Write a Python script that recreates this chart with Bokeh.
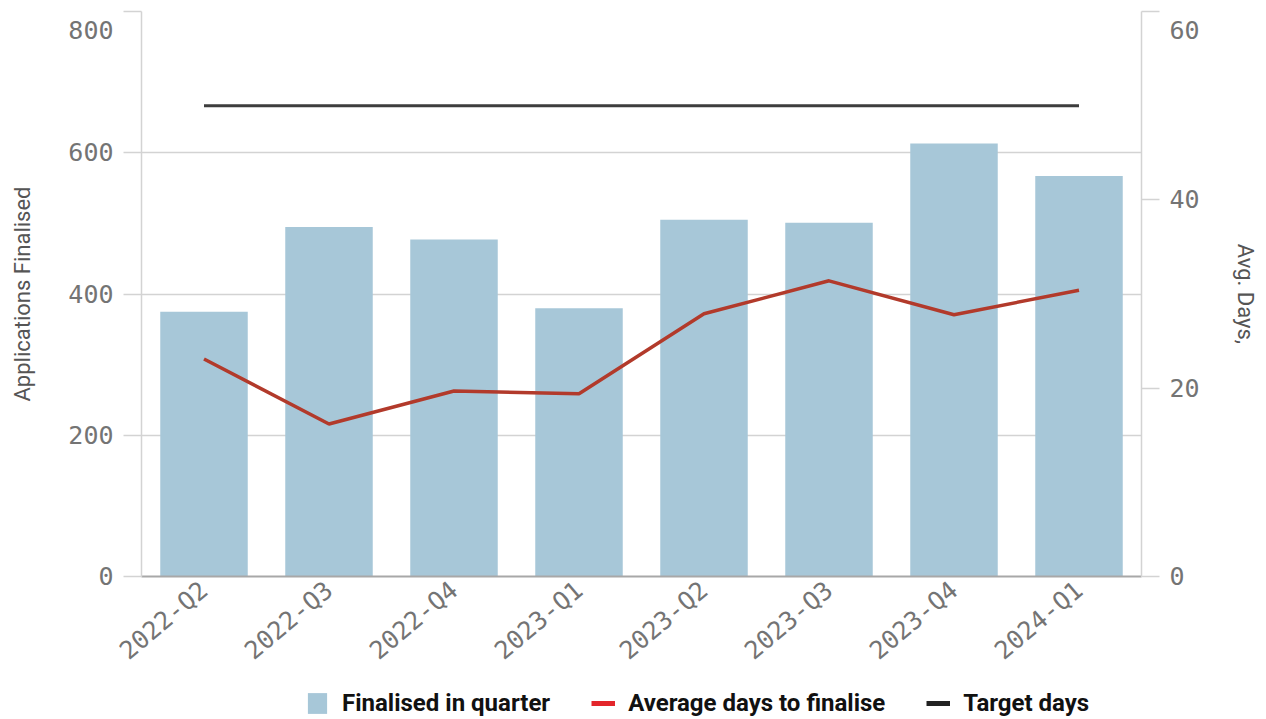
import math
from bokeh.plotting import figure
from bokeh.layouts import column
from bokeh.models import (Range1d, LinearAxis, FactorRange, FixedTicker, Legend,
                          LegendItem)
from bokeh.embed import file_html
from bokeh.resources import INLINE

# ---- data ----
quarters = ["2022-Q2", "2022-Q3", "2022-Q4", "2023-Q1",
            "2023-Q2", "2023-Q3", "2023-Q4", "2024-Q1"]
finalised = [375, 495, 477, 380, 505, 501, 613, 567]
avg_days = [23.1, 16.2, 19.7, 19.4, 27.9, 31.4, 27.8, 30.4]
target_days = [50, 50, 50, 50, 50, 50, 50, 50]
left_ticks = [0, 200, 400, 600, 800]
right_ticks = [0, 20, 40, 60]
legend_labels = ["Finalised in quarter", "Average days to finalise", "Target days"]

# ---- style constants ----
FRAME_W = 1000
FRAME_H = 565
TICK_FONT = "DejaVu Sans Mono"
TICK_SIZE = "25px"
TICK_COLOR = "#747474"
GRID = "#d3d3d3"
BAR_COLOR = "#a7c7d8"

p = figure(x_range=FactorRange(*quarters, range_padding=0),
           y_range=Range1d(0, 800),
           frame_width=FRAME_W, frame_height=FRAME_H,
           output_backend="svg", toolbar_location=None,
           min_border_left=141, min_border_right=117,
           min_border_top=11, min_border_bottom=104)
p.outline_line_color = None
p.background_fill_color = "white"
p.border_fill_color = "white"

p.extra_y_ranges = {"right": Range1d(0, 60)}
raxis = LinearAxis(y_range_name="right", ticker=FixedTicker(ticks=right_ticks),
                   axis_label="Avg. Days,")
p.add_layout(raxis, "right")

laxis = p.left[0]
laxis.ticker = FixedTicker(ticks=left_ticks)
laxis.axis_label = "Applications Finalised"
# top labels pushed down inside the canvas
laxis.major_label_overrides = {800: "\n800"}
raxis.major_label_overrides = {60: "\n60"}

for ax in (laxis, raxis):
    ax.axis_line_color = GRID
    ax.axis_line_width = 1.5
    ax.major_tick_line_color = GRID
    ax.major_tick_line_width = 1.5
    ax.major_tick_out = 18
    ax.major_tick_in = 0
    ax.minor_tick_line_color = None
    ax.major_label_text_font = TICK_FONT
    ax.major_label_text_font_size = TICK_SIZE
    ax.major_label_text_color = TICK_COLOR
    ax.major_label_text_line_height = 0.55
    ax.major_label_standoff = 10
    ax.axis_label_text_font = "Roboto"
    ax.axis_label_text_font_size = "22px"
    ax.axis_label_text_font_style = "normal"
    ax.axis_label_text_color = "#555555"
    ax.axis_label_standoff = 30

xa = p.xaxis[0]
xa.axis_line_color = "#a8a8a8"
xa.axis_line_width = 2
xa.major_tick_line_color = None
xa.minor_tick_line_color = None
xa.major_label_orientation = math.radians(40)
xa.major_label_text_font = TICK_FONT
xa.major_label_text_font_size = TICK_SIZE
xa.major_label_text_color = TICK_COLOR
xa.major_label_standoff = 4

p.xgrid.grid_line_color = None
p.ygrid.grid_line_color = GRID
p.ygrid.grid_line_width = 1.5
p.ygrid.ticker = FixedTicker(ticks=left_ticks)

# ---- marks ----
p.vbar(x=quarters, top=finalised, width=0.7, fill_color=BAR_COLOR, line_color=None)
p.line(quarters, avg_days, y_range_name="right", line_color="#b23a2b", line_width=3.5)
p.line(quarters, target_days, y_range_name="right", line_color="#3d3d3d", line_width=3)

# ---- legend strip (separate small figure so it is not clipped) ----
lg = figure(width=1258, height=39, x_range=Range1d(0, 1), y_range=Range1d(0, 1),
            output_backend="svg", toolbar_location=None, min_border=0)
lg.axis.visible = False
lg.grid.grid_line_color = None
lg.outline_line_color = None
nan_v = [float("nan")]
sw_bar = lg.vbar(x=nan_v, top=nan_v, width=1, fill_color=BAR_COLOR, line_color=None)
sw_avg = lg.line(x=nan_v, y=nan_v, line_color="#e3262b", line_width=5)
sw_tgt = lg.line(x=nan_v, y=nan_v, line_color="#222222", line_width=5)

legend = Legend(items=[LegendItem(label=legend_labels[0], renderers=[sw_bar]),
                       LegendItem(label=legend_labels[1], renderers=[sw_avg]),
                       LegendItem(label=legend_labels[2], renderers=[sw_tgt])],
                orientation="horizontal", location=(164, 2),
                label_text_font="Roboto", label_text_font_size="24px",
                label_text_font_style="bold", label_text_color="#111111",
                glyph_width=24, glyph_height=26, label_height=26,
                label_standoff=13, spacing=41,
                padding=0, margin=0, border_line_color=None,
                background_fill_alpha=0)
lg.add_layout(legend, "center")

open("out.html", "w").write(file_html(column(p, lg, spacing=0), INLINE))
